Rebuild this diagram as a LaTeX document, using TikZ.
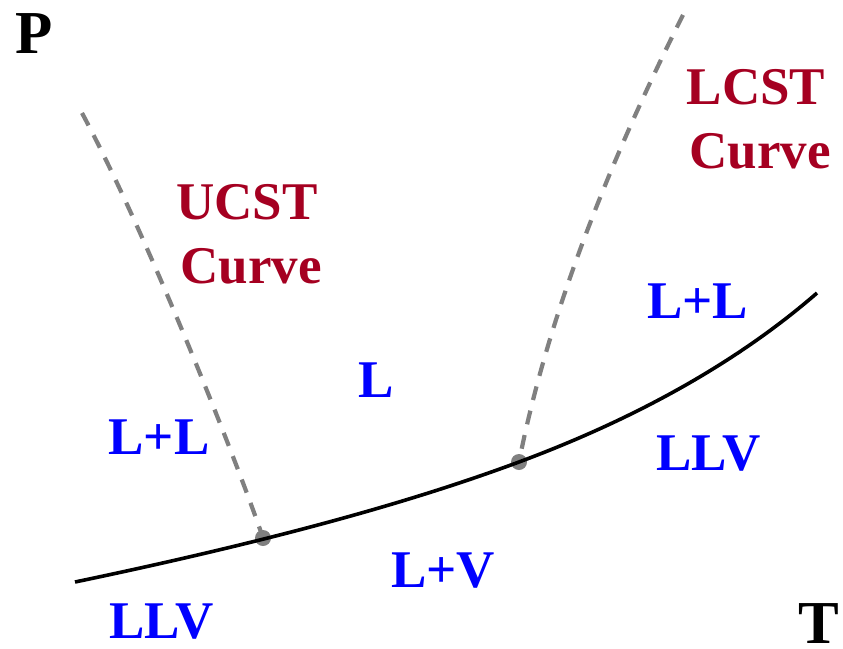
\documentclass[tikz,border=0pt]{standalone}
\usepackage{fontspec}
\setmainfont{Liberation Serif}
\definecolor{maroon}{RGB}{165,0,33}
\definecolor{dashgray}{RGB}{128,128,128}
\begin{document}
\begin{tikzpicture}[x=1pt,y=-1pt,
  lbl/.style={anchor=base,inner sep=0pt,font=\bfseries\fontsize{53}{60}\selectfont},
  phase/.style={lbl,text=blue},
  crit/.style={lbl,text=maroon},
  axis/.style={anchor=base,inner sep=0pt,font=\bfseries\fontsize{61}{66}\selectfont},
  cstline/.style={dashgray,line width=4.2pt,dash pattern=on 14pt off 11pt},
  dot/.style={circle,fill=dashgray,inner sep=0pt,minimum size=16pt},
  boundary/.style={black,line width=3.6pt}]
\useasboundingbox (0,0) rectangle (843,648);
% coordinates
\coordinate (b0) at (75,582);
\coordinate (ucp) at (263,538);
\coordinate (lcp) at (519,462);
\coordinate (b1) at (817,293);
\coordinate (utop) at (82,113);
\coordinate (ltop) at (683,15);
% dashed curves
\draw[cstline] (utop) .. controls (150,240) and (240,470) .. (ucp);
\draw[cstline] (ltop) .. controls (600,180) and (545,330) .. (lcp);
% dots
\node[dot] (ud) at (ucp) {};
\node[dot] (ld) at (lcp) {};
% boundary curve
\draw[boundary] (b0) .. controls (300,535) and (430,495) .. (lcp)
  .. controls (640,417) and (740,360) .. (b1);
% axes labels
\node[axis] (P) at (34.5,53) {P};
\node[axis] (T) at (819,643) {T};
% curve names
\node[crit] (lcst1) at (756,104) {LCST};
\node[crit] (lcst2) at (760,168) {Curve};
\node[crit] (ucst1) at (247,219) {UCST};
\node[crit] (ucst2) at (251,283) {Curve};
% phase labels
\node[phase] (llr) at (697.5,318) {L+L};
\node[phase] (llvr) at (708.5,470) {LLV};
\node[phase] (l) at (376,397) {L};
\node[phase] (lv) at (443,587) {L+V};
\node[phase] (lll) at (159,454) {L+L};
\node[phase] (llvl) at (161.5,638) {LLV};
\end{tikzpicture}
\end{document}
